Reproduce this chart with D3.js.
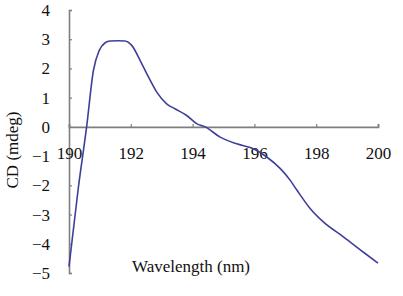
<!DOCTYPE html>
<html>
<head>
<meta charset="utf-8">
<script src="https://cdn.jsdelivr.net/npm/d3@7"></script>
<style>
  body { margin: 0; background: #fff; }
  text { font-family: "Liberation Serif", "Times New Roman", serif; fill: #111; }
</style>
</head>
<body>
<svg width="403" height="296"></svg>
<script>
const wavelength = [190, 190.3, 190.57, 190.79, 190.98, 191.17, 191.33, 191.6, 191.81, 192.03, 192.3, 192.57, 192.84, 193.16, 193.43, 193.81, 194.13, 194.41, 194.89, 195.43, 195.97, 196.4, 196.84, 197.16, 197.38, 197.81, 198.24, 198.89, 199.53, 200];
const cd = [-4.78, -2.1, 0, 1.93, 2.62, 2.88, 2.94, 2.95, 2.94, 2.79, 2.28, 1.71, 1.19, 0.79, 0.62, 0.39, 0.11, 0, -0.35, -0.58, -0.75, -1.03, -1.43, -1.83, -2.17, -2.8, -3.26, -3.77, -4.29, -4.66];
const xTicks = [190, 192, 194, 196, 198, 200];
const yTicks = [-5, -4, -3, -2, -1, 0, 1, 2, 3, 4];

const data = wavelength.map((w, i) => ({w, v: cd[i]}));

const svg = d3.select('svg');
const margin = {left: 69, right: 25, top: 10, bottom: 23};
const width = +svg.attr('width');
const height = +svg.attr('height');

const xScale = d3.scaleLinear().domain([190, 200]).range([margin.left, width - margin.right]);
const yScale = d3.scaleLinear().domain([-5, 4]).range([height - margin.bottom, margin.top]);

const axisColor = '#7f7f7f';

// y axis
const yAxisG = svg.append('g')
  .attr('transform', `translate(${xScale(190)},0)`)
  .call(d3.axisLeft(yScale).tickValues(yTicks).tickSize(-3).tickPadding(19).tickFormat(d3.format('d')));
yAxisG.select('.domain').attr('stroke', axisColor).attr('stroke-width', 1.6);
yAxisG.selectAll('.tick line').attr('stroke', axisColor).attr('stroke-width', 1.2);
yAxisG.selectAll('.tick text')
  .attr('font-size', 17)
  .attr('font-family', '"Liberation Serif", serif')
  .attr('fill', '#111');

// x axis at y = 0
const xAxisG = svg.append('g')
  .attr('transform', `translate(0,${yScale(0)})`)
  .call(d3.axisBottom(xScale).tickValues(xTicks).tickSize(-3).tickPadding(20).tickFormat(d3.format('d')));
xAxisG.select('.domain').attr('stroke', axisColor).attr('stroke-width', 1.8);
xAxisG.selectAll('.tick line').attr('stroke', axisColor).attr('stroke-width', 1.2);
xAxisG.selectAll('.tick text')
  .attr('font-size', 17)
  .attr('font-family', '"Liberation Serif", serif')
  .attr('fill', '#111');

// curve
const line = d3.line()
  .x(d => xScale(d.w))
  .y(d => yScale(d.v))
  .curve(d3.curveMonotoneX);

svg.append('path')
  .datum(data)
  .attr('d', line)
  .attr('fill', 'none')
  .attr('stroke', '#3f3f9a')
  .attr('stroke-width', 1.6);

// axis labels
svg.append('text')
  .attr('x', 191)
  .attr('y', 272)
  .attr('text-anchor', 'middle')
  .attr('font-size', 17)
  .text('Wavelength (nm)');

svg.append('text')
  .attr('transform', 'translate(18,150) rotate(-90)')
  .attr('text-anchor', 'middle')
  .attr('font-size', 17)
  .text('CD (mdeg)');
</script>
</body>
</html>
